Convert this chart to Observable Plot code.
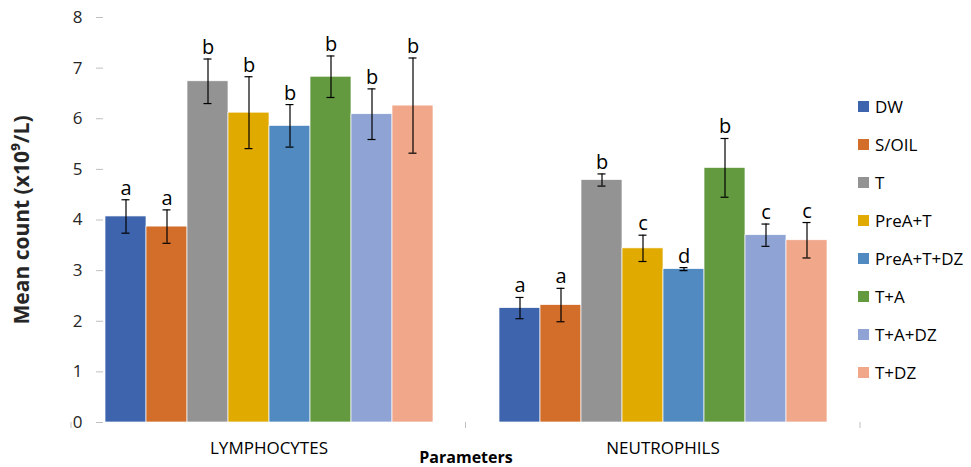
<!DOCTYPE html>
<html>
<head>
<meta charset="utf-8">
<script src="https://cdn.jsdelivr.net/npm/d3@7"></script>
<script src="https://cdn.jsdelivr.net/npm/@observablehq/plot@0.6"></script>
<style>
  html, body { margin: 0; padding: 0; background: #fff; }
  #wrap { position: relative; width: 971px; height: 467px; font-family: "Open Sans", sans-serif; }
  #legend { position: absolute; left: 858px; top: 87px; }
  .item { height: 38px; display: flex; align-items: center; font-size: 17px; color: #000; }
  .sw { width: 11px; height: 11px; margin-right: 6px; }
  g[aria-label="fx-axis label"] text { font-weight: bold; font-size: 16px; }
  g[aria-label="y-axis label"] text { font-weight: bold; font-size: 21px; }
</style>
</head>
<body>
<div id="wrap"><div id="chart"></div><div id="legend"></div></div>
<script>
const params = ["LYMPHOCYTES", "NEUTROPHILS"];
const treatments = ["DW", "S/OIL", "T", "PreA+T", "PreA+T+DZ", "T+A", "T+A+DZ", "T+DZ"];
const colors = ["#3d64ad", "#d26d2a", "#939393", "#e1aa00", "#518ac0", "#639a3f", "#8fa4d4", "#f0a78a"];
const lymphMean = [4.07, 3.87, 6.74, 6.12, 5.86, 6.83, 6.09, 6.26];
const lymphErr = [0.33, 0.33, 0.44, 0.71, 0.42, 0.41, 0.50, 0.94];
const lymphLetters = ["a", "a", "b", "b", "b", "b", "b", "b"];
const neutMean = [2.26, 2.32, 4.79, 3.44, 3.03, 5.03, 3.70, 3.60];
const neutErr = [0.21, 0.33, 0.12, 0.26, 0.03, 0.58, 0.22, 0.35];
const neutLetters = ["a", "a", "b", "c", "d", "b", "c", "c"];
const yTicks = [0, 1, 2, 3, 4, 5, 6, 7, 8];

const data = [];
treatments.forEach((t, i) => {
  data.push({param: params[0], treatment: t, mean: lymphMean[i], err: lymphErr[i], letter: lymphLetters[i]});
});
treatments.forEach((t, i) => {
  data.push({param: params[1], treatment: t, mean: neutMean[i], err: neutErr[i], letter: neutLetters[i]});
});
data.forEach(d => { d.lo = d.mean - d.err; d.hi = d.mean + d.err; });

const W = 971, H = 467, ML = 71, MR = 111, MT = 17, MB = 45;
const fxOpts = {domain: params, paddingInner: 0.16, paddingOuter: 0.08};

const chart = Plot.plot({
  width: W, height: H,
  marginLeft: ML, marginRight: MR, marginTop: MT, marginBottom: MB,
  style: {fontFamily: "'Open Sans', sans-serif", background: "white"},
  fx: {...fxOpts, label: null},
  x: {domain: treatments, padding: 0, axis: null},
  y: {domain: [0, 8]},
  color: {domain: treatments, range: colors},
  marks: [
    Plot.axisY({ticks: yTicks, tickSize: 7, tickPadding: 14, line: true, stroke: "#bfbfbf", fill: "#262626",
      fontSize: 17, label: "Mean count (x10⁹/L)", labelAnchor: "center", labelArrow: "none", labelOffset: 89}),
    Plot.axisFx({anchor: "bottom", tickSize: 0, tickPadding: 19, line: true, stroke: "#bfbfbf", fill: "#000",
      fontSize: 17, label: "Parameters", labelAnchor: "center", labelArrow: "none", labelOffset: 40}),
    Plot.barY(data, {fx: "param", x: "treatment", y: "mean", fill: "treatment", stroke: "white", strokeWidth: 0.7}),
    Plot.ruleX(data, {fx: "param", x: "treatment", y1: "lo", y2: "hi", stroke: "black", strokeWidth: 1.2}),
    Plot.tickY(data, {fx: "param", x: "treatment", y: "hi", stroke: "black", strokeWidth: 1.2, insetLeft: 16.5, insetRight: 16.5}),
    Plot.tickY(data, {fx: "param", x: "treatment", y: "lo", stroke: "black", strokeWidth: 1.2, insetLeft: 16.5, insetRight: 16.5}),
    Plot.text(data, {fx: "param", x: "treatment", y: "hi", text: "letter", dy: -5, lineAnchor: "bottom", fontSize: 20, fill: "black"})
  ]
});
document.getElementById("chart").appendChild(chart);

// category boundary tick marks on the x baseline, derived from the same band layout
const band = d3.scaleBand().domain(params).range([ML, W - MR])
  .paddingInner(fxOpts.paddingInner).paddingOuter(fxOpts.paddingOuter);
const yBase = H - MB;
const bounds = [ML, ...params.slice(1).map(p => band(p) - band.step() * band.paddingInner() / 2), W - MR];
const svg = d3.select(chart.tagName.toLowerCase() === "svg" ? chart : chart.querySelector("svg"));
svg.append("g").selectAll("line").data(bounds).join("line")
  .attr("x1", d => d).attr("x2", d => d).attr("y1", yBase).attr("y2", yBase + 6)
  .attr("stroke", "#bfbfbf");

const legend = d3.select("#legend");
treatments.forEach((t, i) => {
  const it = legend.append("div").attr("class", "item");
  it.append("div").attr("class", "sw").style("background", colors[i]);
  it.append("span").text(t);
});
</script>
</body>
</html>
